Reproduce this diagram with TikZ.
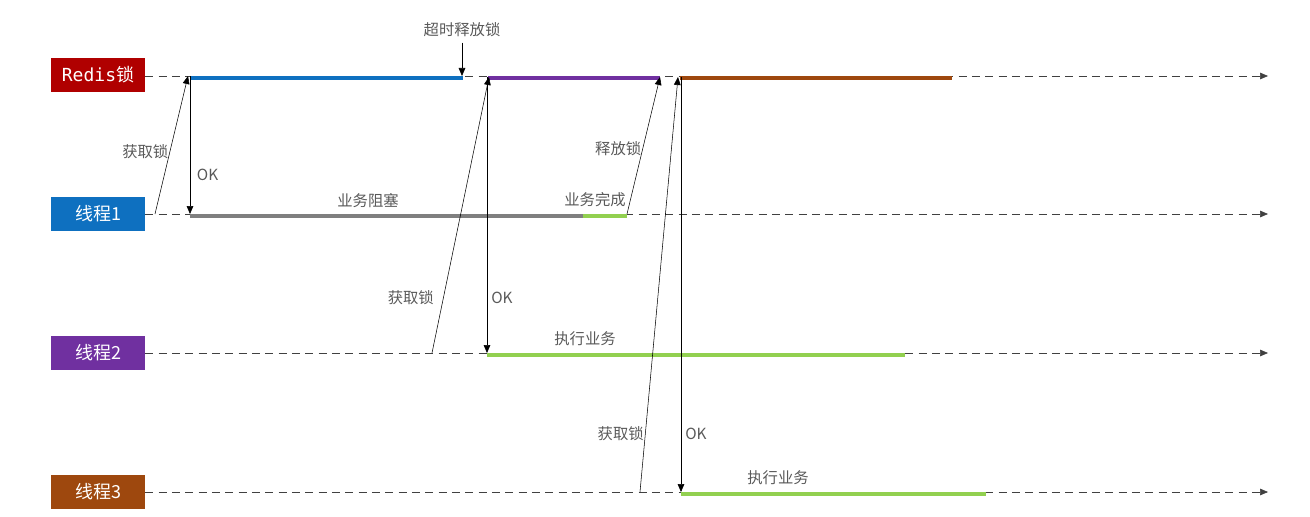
\documentclass[tikz,border=0pt]{standalone}
\usepackage{fontspec}
\setmainfont{Noto Sans CJK SC}
\newfontfamily\monofont{DejaVu Sans Mono}
\usepackage{tikz}
\usetikzlibrary{arrows.meta, positioning}

\definecolor{redislock}{HTML}{B00000}
\definecolor{threadone}{HTML}{0E70C0}
\definecolor{threadtwo}{HTML}{7030A0}
\definecolor{threadthree}{HTML}{9E480E}
\definecolor{workgreen}{HTML}{92D050}
\definecolor{blockgray}{HTML}{7F7F7F}
\definecolor{labelgray}{HTML}{595959}

\begin{document}
\begin{tikzpicture}[x=0.75pt, y=-0.75pt,
            lane/.style    ={rectangle, minimum width=70.5pt, minimum height=25.5pt,
                             inner sep=0pt, text=white, font=\fontsize{13.5}{15}\selectfont},
            timeline/.style={dashed, dash pattern=on 6pt off 4pt, thin, black!75,
                             -{Triangle[length=6pt, width=5pt]}},
            bar/.style     ={line width=3.5pt},
            msg/.style     ={thin, -{Triangle[length=6pt, width=5pt]}},
            tag/.style     ={text=labelgray, font=\fontsize{11.5}{13}\selectfont, inner sep=1pt}
        ]
            \useasboundingbox (0,0) rectangle (1310,517);

            % --- Carriles ---
            \node[lane, fill=redislock]   (redis) at (98,75)  {{\monofont Redis}锁};
            \node[lane, fill=threadone]   (t1)    at (98,214) {线程1};
            \node[lane, fill=threadtwo]   (t2)    at (98,353) {线程2};
            \node[lane, fill=threadthree] (t3)    at (98,492) {线程3};

            \coordinate (redisend) at (1268,76);
            \coordinate (t1end)    at (1268,214);
            \coordinate (t2end)    at (1268,353);
            \coordinate (t3end)    at (1268,492);

            \draw[timeline] (redis.east |- redisend) -- (redisend);
            \draw[timeline] (t1.east) -- (t1end);
            \draw[timeline] (t2.east) -- (t2end);
            \draw[timeline] (t3.east) -- (t3end);

            % --- Tramos de las barras ---
            \coordinate (lock1a) at (190,78);  \coordinate (lock1b) at (463,78);
            \coordinate (lock2a) at (488,78);  \coordinate (lock2b) at (660,78);
            \coordinate (lock3a) at (680,78);  \coordinate (lock3b) at (952,78);
            \coordinate (blk1a)  at (190,216); \coordinate (blk1b)  at (583,216);
            \coordinate (done1)  at (627,216);
            \coordinate (run2a)  at (487,355); \coordinate (run2b)  at (905,355);
            \coordinate (run3a)  at (681,494); \coordinate (run3b)  at (986,494);

            \draw[bar, threadone]   (lock1a) -- (lock1b);
            \draw[bar, threadtwo]   (lock2a) -- (lock2b);
            \draw[bar, threadthree] (lock3a) -- (lock3b);
            \draw[bar, blockgray]   (blk1a)  -- (blk1b);
            \draw[bar, workgreen]   (blk1b)  -- (done1);
            \draw[bar, workgreen]   (run2a)  -- (run2b);
            \draw[bar, workgreen]   (run3a)  -- (run3b);

            % --- Mensajes ---
            \coordinate (req1)   at (155,214);
            \coordinate (get1)   at (188,76);
            \coordinate (ok1a)   at (190,76);
            \coordinate (ok1b)   at (190,214);
            \draw[msg] (req1) -- node[tag, left, pos=0.45] {获取锁} (get1);
            \draw[msg] (ok1a) -- node[tag, right=4pt, pos=0.72] {OK} (ok1b);

            \node[tag] (timeout) at (462,30) {超时释放锁};
            \coordinate (expire) at (462,76);
            \draw[msg] (timeout.south) ++(0,4) -- (expire);

            \coordinate (req2)   at (432,353);
            \coordinate (get2)   at (489,77);
            \coordinate (ok2a)   at (487,77);
            \coordinate (ok2b)   at (487,353);
            \draw[msg] (req2) -- node[tag, left=6pt, pos=0.2] {获取锁} (get2);
            \draw[msg] (ok2a) -- node[tag, right=2pt, pos=0.8] {OK} (ok2b);

            \coordinate (rel1)   at (627,214);
            \coordinate (free1)  at (660,77);
            \draw[msg] (rel1) -- node[tag, left, pos=0.48] {释放锁} (free1);

            \coordinate (req3)   at (640,492);
            \coordinate (get3)   at (678,77);
            \coordinate (ok3a)   at (681,77);
            \coordinate (ok3b)   at (681,492);
            \draw[msg] (req3) -- node[tag, left, pos=0.14] {获取锁} (get3);
            \draw[msg] (ok3a) -- node[tag, right=2pt, pos=0.86] {OK} (ok3b);

            % --- Rótulos de las barras ---
            \node[tag] (blocked)  at (368,201) {业务阻塞};
            \node[tag] (finished) at (595,200) {业务完成};
            \node[tag] (work2)    at (585,339) {执行业务};
            \node[tag] (work3)    at (778,478) {执行业务};

        \end{tikzpicture}
\end{document}
